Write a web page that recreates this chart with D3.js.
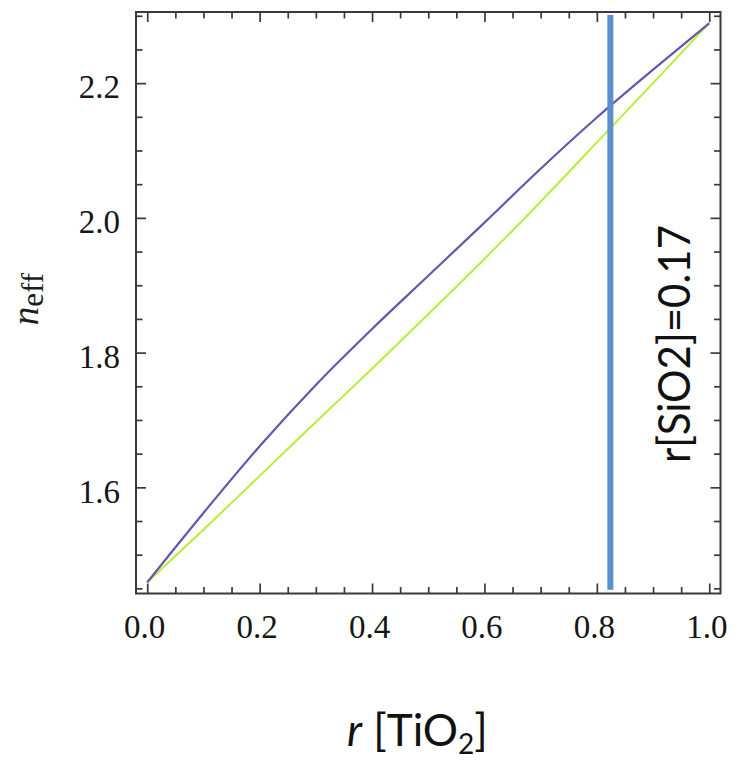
<!DOCTYPE html>
<html>
<head>
<meta charset="utf-8">
<script src="https://cdn.jsdelivr.net/npm/d3@7"></script>
<style>
  body { margin: 0; background: #fff; }
  svg { display: block; }
</style>
</head>
<body>
<div id="vis"></div>
<script>
// values
const rValues = [0, 0.1, 0.2, 0.3, 0.4, 0.5, 0.6, 0.7, 0.8, 0.9, 1.0];
const nUpper  = [1.459, 1.562, 1.661, 1.752, 1.835, 1.914, 1.993, 2.073, 2.149, 2.220, 2.289];
const nLower  = [1.459, 1.537, 1.617, 1.697, 1.776, 1.857, 1.939, 2.024, 2.112, 2.200, 2.289];

const xTickValues = [0, 0.2, 0.4, 0.6, 0.8, 1.0];
const yTickValues = [1.6, 1.8, 2.0, 2.2];
const minorStep = 0.05;

const markerR = 0.824;            // r[SiO2]=0.17
const markerSpan = [1.448, 2.301];
const markerLabel = "r[SiO2]=0.17";

const W = 738, H = 760;
const frame = { left: 136, right: 720.5, top: 12, bottom: 593.5 };

const svg = d3.select("#vis").append("svg")
    .attr("width", W)
    .attr("height", H);

const xScale = d3.scaleLinear().domain([-0.02, 1.02]).range([frame.left, frame.right]);
const yScale = d3.scaleLinear().domain([1.4424, 2.3056]).range([frame.bottom, frame.top]);

const axisColor = "#3a3a3a";
const serif = "'Liberation Serif', 'DejaVu Serif', serif";
const sans = "Lato, 'Open Sans', sans-serif";

// minor ticks (no labels)
const xMinor = d3.range(0, 1.0001, minorStep).filter(v => !xTickValues.some(t => Math.abs(t - v) < 1e-6));
const yMinor = d3.range(1.45, 2.3001, minorStep).filter(v => !yTickValues.some(t => Math.abs(t - v) < 1e-6));

function styleAxis(g, showLabels) {
    g.select(".domain").remove();
    g.selectAll(".tick line").attr("stroke", axisColor).attr("stroke-width", 1.7);
    g.selectAll(".tick text")
        .attr("fill", "#161616")
        .style("font-family", serif)
        .style("font-size", "33px");
    if (!showLabels) g.selectAll(".tick text").remove();
}

// bottom
svg.append("g").attr("transform", `translate(0,${frame.bottom})`)
    .call(d3.axisBottom(xScale).tickValues(xTickValues).tickSize(-10).tickPadding(21).tickFormat(d3.format(".1f")))
    .call(g => styleAxis(g, true))
    .call(g => g.selectAll(".tick text").attr("dx", "-3"));
svg.append("g").attr("transform", `translate(0,${frame.bottom})`)
    .call(d3.axisBottom(xScale).tickValues(xMinor).tickSize(-6.5))
    .call(g => styleAxis(g, false));
// top
svg.append("g").attr("transform", `translate(0,${frame.top})`)
    .call(d3.axisTop(xScale).tickValues(xTickValues).tickSize(-10))
    .call(g => styleAxis(g, false));
svg.append("g").attr("transform", `translate(0,${frame.top})`)
    .call(d3.axisTop(xScale).tickValues(xMinor).tickSize(-6.5))
    .call(g => styleAxis(g, false));
// left
svg.append("g").attr("transform", `translate(${frame.left},0)`)
    .call(d3.axisLeft(yScale).tickValues(yTickValues).tickSize(-10).tickPadding(16).tickFormat(d3.format(".1f")))
    .call(g => styleAxis(g, true))
    .call(g => g.selectAll(".tick text").attr("dy", "0.45em"));
svg.append("g").attr("transform", `translate(${frame.left},0)`)
    .call(d3.axisLeft(yScale).tickValues(yMinor).tickSize(-6.5))
    .call(g => styleAxis(g, false));
// right
svg.append("g").attr("transform", `translate(${frame.right},0)`)
    .call(d3.axisRight(yScale).tickValues(yTickValues).tickSize(-10))
    .call(g => styleAxis(g, false));
svg.append("g").attr("transform", `translate(${frame.right},0)`)
    .call(d3.axisRight(yScale).tickValues(yMinor).tickSize(-6.5))
    .call(g => styleAxis(g, false));

// frame
svg.append("rect")
    .attr("x", frame.left)
    .attr("y", frame.top)
    .attr("width", frame.right - frame.left)
    .attr("height", frame.bottom - frame.top)
    .attr("fill", "none")
    .attr("stroke", axisColor)
    .attr("stroke-width", 2);

// curves
const line = d3.line()
    .x(d => xScale(d[0]))
    .y(d => yScale(d[1]))
    .curve(d3.curveMonotoneX);

svg.append("path")
    .datum(rValues.map((r, i) => [r, nLower[i]]))
    .attr("d", line)
    .attr("fill", "none")
    .attr("stroke", "#b3f03a")
    .attr("stroke-width", 2);

svg.append("path")
    .datum(rValues.map((r, i) => [r, nUpper[i]]))
    .attr("d", line)
    .attr("fill", "none")
    .attr("stroke", "#6457ad")
    .attr("stroke-width", 2.2);

// vertical marker
svg.append("line")
    .attr("x1", xScale(markerR)).attr("x2", xScale(markerR))
    .attr("y1", yScale(markerSpan[1])).attr("y2", yScale(markerSpan[0]))
    .attr("stroke", "#5b8fcb")
    .attr("stroke-width", 6);

svg.append("text")
    .attr("transform", `translate(690,344) rotate(-90)`)
    .attr("text-anchor", "middle")
    .attr("textLength", 238)
    .attr("lengthAdjust", "spacingAndGlyphs")
    .style("font-family", sans)
    .style("font-size", "45px")
    .attr("fill", "#111")
    .text(markerLabel);

// y axis label: n_eff
const yLab = svg.append("text")
    .attr("transform", `translate(38,299) rotate(-90)`)
    .attr("text-anchor", "middle")
    .style("font-family", serif)
    .attr("fill", "#1c1c1c");
yLab.append("tspan").style("font-style", "italic").style("font-size", "37px").text("n");
yLab.append("tspan").style("font-size", "31px").attr("dy", 5).text("eff");

// x axis label: r [TiO2]
const xLab = svg.append("text")
    .attr("x", 347)
    .attr("y", 746)
    .style("font-family", sans)
    .style("font-size", "44px")
    .attr("fill", "#111");
xLab.append("tspan").style("font-style", "italic").text("r");
xLab.append("tspan").text(" [TiO");
xLab.append("tspan").style("font-size", "28px").attr("dy", 8).text("2");
xLab.append("tspan").attr("dy", -8).text("]");
</script>
</body>
</html>
